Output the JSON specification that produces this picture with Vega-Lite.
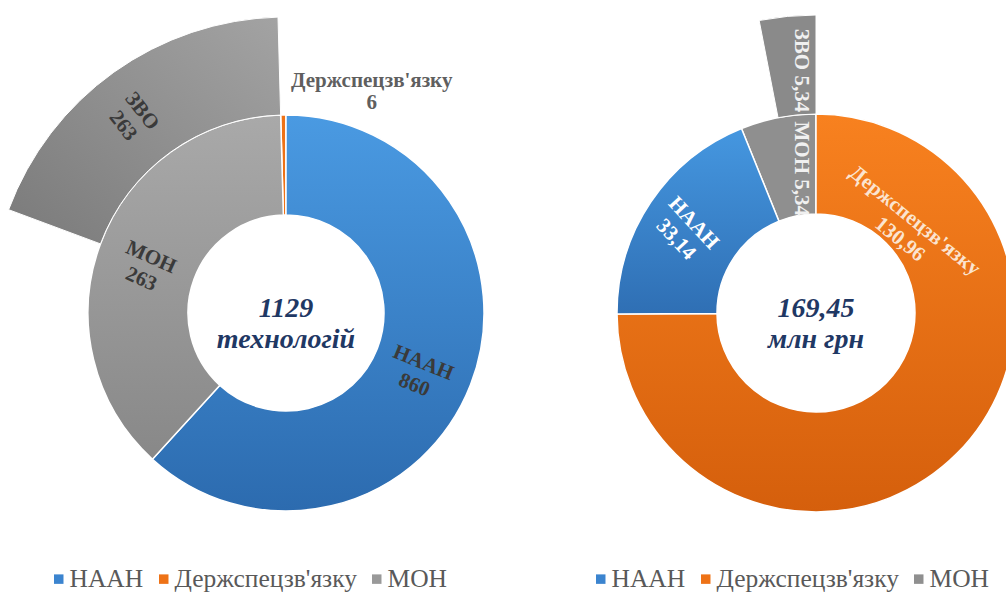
{
  "$schema": "https://vega.github.io/schema/vega-lite/v6.json",
  "width": 1006,
  "height": 595,
  "padding": 0,
  "autosize": "none",
  "background": "white",
  "config": {
    "view": {"stroke": null},
    "font": "Liberation Serif",
    "legend": {"labelFont": "Liberation Serif", "labelLimit": 400, "symbolOpacity": 1}
  },
  "datasets": {
    "orgs": [
      {"chart": "Технології", "org": "НААН", "group": "НААН", "value": 860, "rank": 1, "label": "НААН\n860"},
      {"chart": "Технології", "org": "МОН", "group": "МОН", "value": 263, "rank": 2, "label": "МОН\n263"},
      {"chart": "Технології", "org": "ЗВО", "group": "МОН", "value": 263, "rank": 3, "label": "ЗВО\n263"},
      {"chart": "Технології", "org": "Держспецзв'язку", "group": "Держспецзв'язку", "value": 6, "rank": 4, "label": "Держспецзв'язку\n6"},
      {"chart": "Фінансування", "org": "Держспецзв'язку", "group": "Держспецзв'язку", "value": 130.96, "rank": 1, "label": "Держспецзв'язку\n130,96"},
      {"chart": "Фінансування", "org": "НААН", "group": "НААН", "value": 33.14, "rank": 2, "label": "НААН\n33,14"},
      {"chart": "Фінансування", "org": "МОН", "group": "МОН", "value": 5.34, "rank": 3, "label": "МОН 5,34"},
      {"chart": "Фінансування", "org": "ЗВО", "group": "МОН", "value": 5.34, "rank": 4, "label": "ЗВО 5,34"}
    ],
    "totals": [
      {"chart": "Технології", "caption": "1129\nтехнологій"},
      {"chart": "Фінансування", "caption": "169,45\nмлн грн"}
    ]
  },
  "data": {"name": "orgs"},
  "encoding": {
    "x": {"field": "chart", "type": "nominal", "scale": {"domain": ["Технології", "Фінансування"], "range": [286, 816], "padding": 0}, "axis": null},
    "y": {"field": "chart", "type": "nominal", "scale": {"domain": ["Технології", "Фінансування"], "range": [313, 313], "padding": 0}, "axis": null}
  },
  "layer": [
    {
      "transform": [{"filter": "datum.chart === 'Технології'"}],
      "layer": [
        {
          "mark": {"type": "arc", "innerRadius": 98, "outerRadius": 198, "stroke": "white", "strokeWidth": 1.5},
          "encoding": {
            "theta": {"aggregate": "sum", "field": "value", "type": "quantitative", "stack": true},
            "order": {"aggregate": "min", "field": "rank", "type": "quantitative"},
            "color": {"field": "group", "type": "nominal",
              "scale": {"domain": ["НААН", "Держспецзв'язку", "МОН"], "range": ["#3b84cf", "#ee7216", "#999999"]},
              "legend": {"orient": "none", "legendX": 46, "legendY": 566, "direction": "horizontal", "title": null,
                "symbolType": "square", "symbolSize": 90, "symbolStrokeWidth": 0, "labelFont": "Liberation Serif",
                "labelFontSize": 25.5, "labelColor": "#595959", "columnPadding": 7, "labelOffset": -2}}
          }
        },
        {
          "mark": {"type": "arc", "innerRadius": 98, "outerRadius": 198, "stroke": "white", "strokeWidth": 1.5,
            "fill": {"gradient": "linear", "x1": 0, "y1": 0, "x2": 0, "y2": 1, "stops": [{"offset": 0, "color": "#4a9ae2"}, {"offset": 1, "color": "#2c6baf"}]}},
          "encoding": {
            "theta": {"aggregate": "sum", "field": "value", "type": "quantitative", "stack": true},
            "order": {"aggregate": "min", "field": "rank", "type": "quantitative"},
            "detail": {"field": "group"},
            "opacity": {"condition": {"test": "datum.group === 'НААН'", "value": 1}, "value": 0}
          }
        },
        {
          "mark": {"type": "arc", "innerRadius": 98, "outerRadius": 198, "stroke": "white", "strokeWidth": 1.5,
            "fill": {"gradient": "linear", "x1": 0, "y1": 0, "x2": 0, "y2": 1, "stops": [{"offset": 0, "color": "#a9a9a9"}, {"offset": 1, "color": "#888888"}]}},
          "encoding": {
            "theta": {"aggregate": "sum", "field": "value", "type": "quantitative", "stack": true},
            "order": {"aggregate": "min", "field": "rank", "type": "quantitative"},
            "detail": {"field": "group"},
            "opacity": {"condition": {"test": "datum.group === 'МОН'", "value": 1}, "value": 0}
          }
        },
        {
          "mark": {"type": "arc", "innerRadius": 198, "outerRadius": 296, "stroke": "white", "strokeWidth": 1,
            "fill": {"gradient": "linear", "x1": 1, "y1": 0, "x2": 0, "y2": 1, "stops": [{"offset": 0, "color": "#a3a3a3"}, {"offset": 1, "color": "#7a7a7a"}]}},
          "encoding": {
            "theta": {"field": "value", "type": "quantitative", "stack": true},
            "order": {"field": "rank", "type": "quantitative"},
            "opacity": {"condition": {"test": "datum.org === 'ЗВО'", "value": 1}, "value": 0}
          }
        },
        {
          "mark": {"type": "text", "radius": 146, "angle": 22, "thetaOffset": -0.02, "lineBreak": "\n", "lineHeight": 24, "font": "Liberation Serif", "fontWeight": "bold", "fontSize": 21, "color": "#3a3a3a"},
          "encoding": {
            "theta": {"field": "value", "type": "quantitative", "stack": true},
            "order": {"field": "rank", "type": "quantitative"},
            "text": {"field": "label"},
            "opacity": {"condition": {"test": "datum.org === 'НААН'", "value": 1}, "value": 0}
          }
        },
        {
          "mark": {"type": "text", "radius": 146, "angle": 24, "thetaOffset": 0.627, "lineBreak": "\n", "lineHeight": 24, "font": "Liberation Serif", "fontWeight": "bold", "fontSize": 21, "color": "#3a3a3a"},
          "encoding": {
            "theta": {"field": "value", "type": "quantitative", "stack": true},
            "order": {"field": "rank", "type": "quantitative"},
            "text": {"field": "label"},
            "opacity": {"condition": {"test": "datum.org === 'МОН'", "value": 1}, "value": 0}
          }
        },
        {
          "mark": {"type": "text", "radius": 248, "angle": 52, "thetaOffset": 0, "lineBreak": "\n", "lineHeight": 24, "font": "Liberation Serif", "fontWeight": "bold", "fontSize": 21, "color": "#3a3a3a"},
          "encoding": {
            "theta": {"field": "value", "type": "quantitative", "stack": true},
            "order": {"field": "rank", "type": "quantitative"},
            "text": {"field": "label"},
            "opacity": {"condition": {"test": "datum.org === 'ЗВО'", "value": 1}, "value": 0}
          }
        },
        {
          "mark": {"type": "text", "radius": 247, "angle": 0, "thetaOffset": 0.368, "lineBreak": "\n", "lineHeight": 22, "font": "Liberation Serif", "fontWeight": "bold", "fontSize": 21, "color": "#5f5f5f"},
          "encoding": {
            "theta": {"field": "value", "type": "quantitative", "stack": true},
            "order": {"field": "rank", "type": "quantitative"},
            "text": {"field": "label"},
            "opacity": {"condition": {"test": "datum.org === 'Держспецзв\\'язку'", "value": 1}, "value": 0}
          }
        }
      ]
    },
    {
      "transform": [{"filter": "datum.chart === 'Фінансування'"}],
      "layer": [
        {
          "mark": {"type": "arc", "innerRadius": 99, "outerRadius": 199, "stroke": "white", "strokeWidth": 1.5},
          "encoding": {
            "theta": {"aggregate": "sum", "field": "value", "type": "quantitative", "stack": true},
            "order": {"aggregate": "min", "field": "rank", "type": "quantitative"},
            "color": {"field": "group", "type": "nominal",
              "scale": {"domain": ["НААН", "Держспецзв'язку", "МОН"], "range": ["#3b84cf", "#ee7216", "#8f8f8f"]},
              "legend": {"orient": "none", "legendX": 588, "legendY": 566, "direction": "horizontal", "title": null,
                "symbolType": "square", "symbolSize": 90, "symbolStrokeWidth": 0, "labelFont": "Liberation Serif",
                "labelFontSize": 25.5, "labelColor": "#595959", "columnPadding": 7, "labelOffset": -2}}
          }
        },
        {
          "mark": {"type": "arc", "innerRadius": 99, "outerRadius": 199, "stroke": "white", "strokeWidth": 1.5,
            "fill": {"gradient": "linear", "x1": 0, "y1": 0, "x2": 0, "y2": 1, "stops": [{"offset": 0, "color": "#f8811f"}, {"offset": 1, "color": "#d55f0c"}]}},
          "encoding": {
            "theta": {"aggregate": "sum", "field": "value", "type": "quantitative", "stack": true},
            "order": {"aggregate": "min", "field": "rank", "type": "quantitative"},
            "detail": {"field": "group"},
            "opacity": {"condition": {"test": "datum.group === 'Держспецзв\\'язку'", "value": 1}, "value": 0}
          }
        },
        {
          "mark": {"type": "arc", "innerRadius": 99, "outerRadius": 199, "stroke": "white", "strokeWidth": 1.5,
            "fill": {"gradient": "linear", "x1": 0, "y1": 0, "x2": 0, "y2": 1, "stops": [{"offset": 0, "color": "#4597e0"}, {"offset": 1, "color": "#2f6fb4"}]}},
          "encoding": {
            "theta": {"aggregate": "sum", "field": "value", "type": "quantitative", "stack": true},
            "order": {"aggregate": "min", "field": "rank", "type": "quantitative"},
            "detail": {"field": "group"},
            "opacity": {"condition": {"test": "datum.group === 'НААН'", "value": 1}, "value": 0}
          }
        },
        {
          "mark": {"type": "arc", "innerRadius": 199, "outerRadius": 298, "color": "#8a8a8a", "stroke": "white", "strokeWidth": 1},
          "encoding": {
            "theta": {"field": "value", "type": "quantitative", "stack": true},
            "order": {"field": "rank", "type": "quantitative"},
            "opacity": {"condition": {"test": "datum.org === 'ЗВО'", "value": 1}, "value": 0}
          }
        },
        {
          "mark": {"type": "text", "radius": 135, "angle": 39, "thetaOffset": -1.534, "lineBreak": "\n", "lineHeight": 24, "font": "Liberation Serif", "fontWeight": "bold", "fontSize": 21, "color": "#fbe4d0"},
          "encoding": {
            "theta": {"field": "value", "type": "quantitative", "stack": true},
            "order": {"field": "rank", "type": "quantitative"},
            "text": {"field": "label"},
            "opacity": {"condition": {"test": "datum.org === 'Держспецзв\\'язку'", "value": 1}, "value": 0}
          }
        },
        {
          "mark": {"type": "text", "radius": 152, "angle": 47, "thetaOffset": 0.04, "lineBreak": "\n", "lineHeight": 24, "font": "Liberation Serif", "fontWeight": "bold", "fontSize": 21, "color": "#ffffff"},
          "encoding": {
            "theta": {"field": "value", "type": "quantitative", "stack": true},
            "order": {"field": "rank", "type": "quantitative"},
            "text": {"field": "label"},
            "opacity": {"condition": {"test": "datum.org === 'НААН'", "value": 1}, "value": 0}
          }
        },
        {
          "mark": {"type": "text", "radius": 145, "angle": 90, "thetaOffset": 0.183, "font": "Liberation Serif", "fontWeight": "bold", "fontSize": 21, "color": "#f0f0f0"},
          "encoding": {
            "theta": {"field": "value", "type": "quantitative", "stack": true},
            "order": {"field": "rank", "type": "quantitative"},
            "text": {"field": "label"},
            "opacity": {"condition": {"test": "datum.org === 'МОН'", "value": 1}, "value": 0}
          }
        },
        {
          "mark": {"type": "text", "radius": 243, "angle": 90, "thetaOffset": 0.035, "font": "Liberation Serif", "fontWeight": "bold", "fontSize": 21, "color": "#f0f0f0"},
          "encoding": {
            "theta": {"field": "value", "type": "quantitative", "stack": true},
            "order": {"field": "rank", "type": "quantitative"},
            "text": {"field": "label"},
            "opacity": {"condition": {"test": "datum.org === 'ЗВО'", "value": 1}, "value": 0}
          }
        }
      ]
    },
    {
      "data": {"name": "totals"},
      "mark": {"type": "text", "lineBreak": "\n", "lineHeight": 31, "dy": -4, "font": "Liberation Serif", "fontWeight": "bold", "fontStyle": "italic", "fontSize": 28, "color": "#1f3864"},
      "encoding": {"text": {"field": "caption"}}
    }
  ],
  "resolve": {"scale": {"color": "independent", "theta": "independent"}}
}
